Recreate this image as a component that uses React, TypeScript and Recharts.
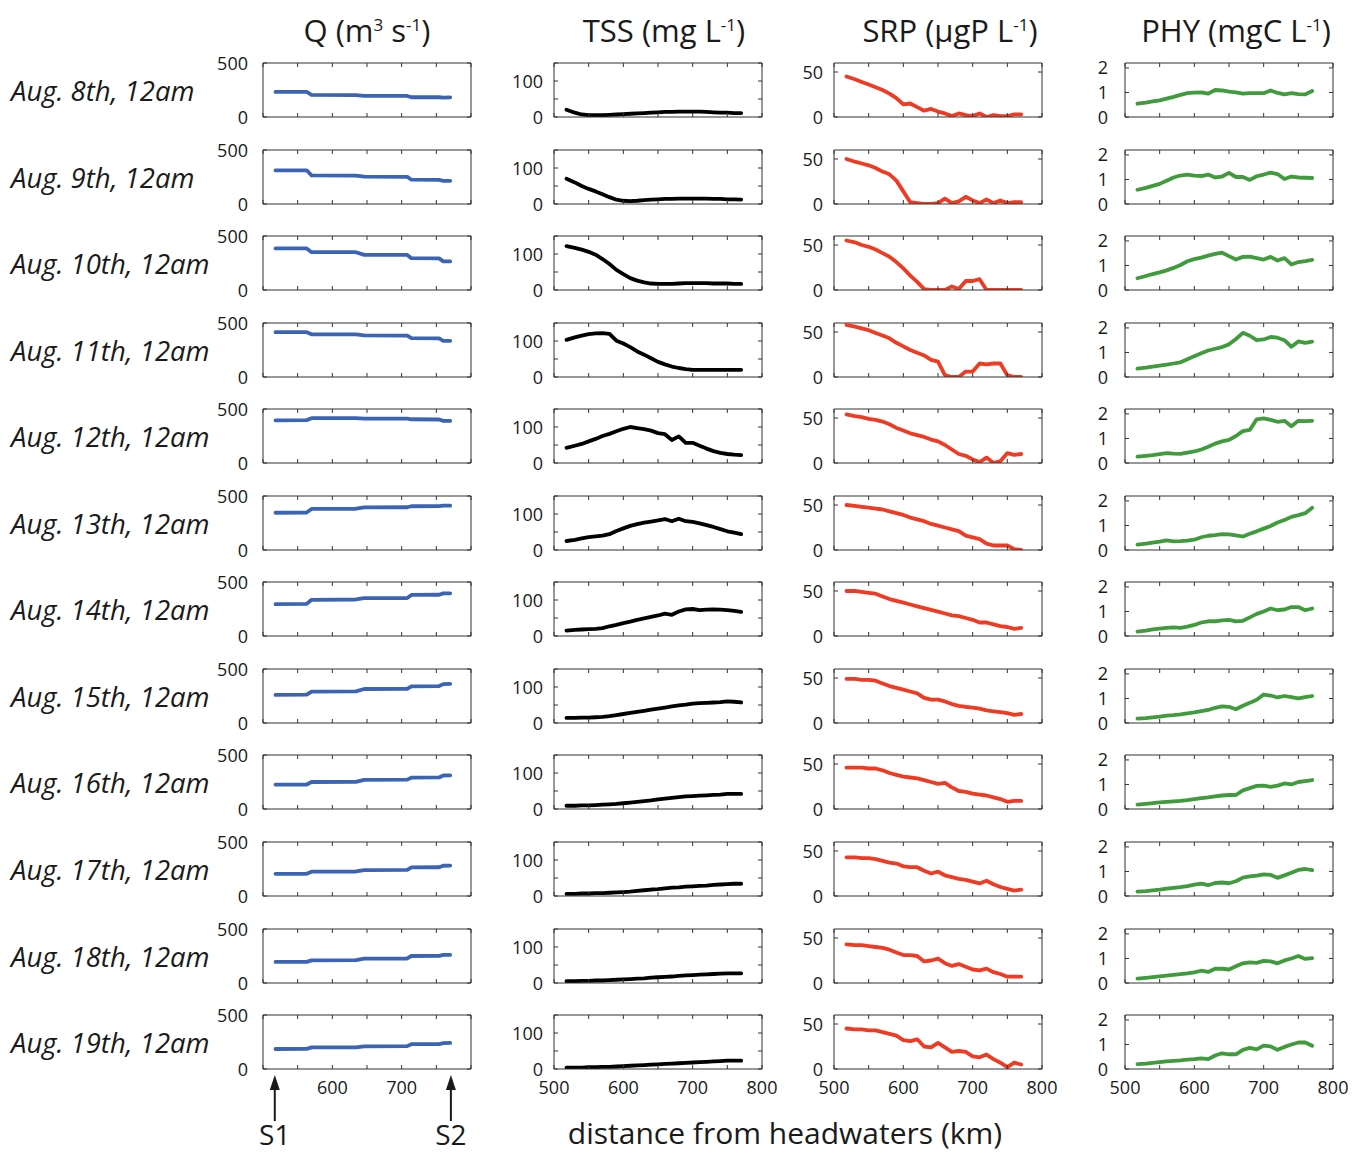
import React from "react";
import { LineChart, Line, XAxis, YAxis, ReferenceLine } from "recharts";

const FONT = "'Open Sans', 'Noto Sans', sans-serif";

const rowLabels = [
  "Aug. 8th, 12am", "Aug. 9th, 12am", "Aug. 10th, 12am", "Aug. 11th, 12am",
  "Aug. 12th, 12am", "Aug. 13th, 12am", "Aug. 14th, 12am", "Aug. 15th, 12am",
  "Aug. 16th, 12am", "Aug. 17th, 12am", "Aug. 18th, 12am", "Aug. 19th, 12am",
];

// distance from headwaters (km)
const distance = [518, 530, 540, 550, 560, 570, 580, 590, 600, 610, 620, 630, 640, 650, 660, 670, 680, 690, 700, 710, 720, 730, 740, 750, 760, 770];
const qDistance = [518, 563, 570, 634, 646, 708, 714, 754, 760, 770];
const stations = [{ name: "S1", km: 517 }, { name: "S2", km: 771 }];

const xTicks = [500, 550, 600, 650, 700, 750, 800];

// Q (m3/s)
const qRows = [
  [232, 232, 204, 203, 195, 195, 183, 183, 180, 182],
  [312, 312, 265, 263, 253, 252, 225, 224, 215, 215],
  [385, 385, 350, 350, 325, 325, 295, 293, 265, 265],
  [415, 415, 395, 395, 385, 384, 360, 358, 335, 335],
  [395, 397, 415, 415, 410, 410, 405, 403, 390, 390],
  [345, 347, 380, 382, 395, 396, 405, 406, 410, 410],
  [295, 297, 335, 338, 350, 352, 380, 382, 395, 395],
  [260, 262, 290, 293, 315, 317, 340, 342, 360, 362],
  [225, 227, 250, 252, 270, 272, 290, 292, 310, 312],
  [205, 206, 225, 227, 240, 242, 265, 266, 280, 281],
  [195, 196, 210, 212, 225, 227, 250, 251, 260, 261],
  [185, 186, 200, 201, 210, 212, 230, 231, 240, 241],
];

// TSS (mg/L)
const tssRows = [
  [20, 12, 7, 5, 5, 5, 6, 7, 8, 9, 10, 11, 12, 13, 14, 14, 15, 15, 15, 15, 14, 13, 12, 12, 11, 11],
  [70, 60, 50, 42, 35, 27, 19, 12, 9, 8, 9, 11, 12, 13, 14, 14, 15, 15, 15, 15, 15, 14, 14, 13, 13, 12],
  [122, 117, 112, 106, 98, 86, 72, 56, 44, 33, 26, 21, 18, 17, 17, 17, 18, 19, 19, 19, 19, 18, 18, 18, 17, 17],
  [103, 110, 115, 119, 121, 122, 120, 101, 93, 83, 71, 62, 52, 42, 35, 29, 25, 22, 20, 20, 20, 20, 20, 20, 20, 20],
  [42, 48, 53, 60, 67, 75, 81, 88, 95, 100, 97, 94, 90, 83, 80, 64, 74, 56, 56, 48, 40, 33, 28, 25, 23, 22],
  [25, 28, 32, 36, 38, 40, 44, 53, 60, 67, 72, 76, 79, 82, 86, 80, 87, 80, 78, 74, 69, 64, 58, 52, 48, 44],
  [15, 17, 18, 19, 20, 22, 27, 31, 36, 40, 45, 49, 53, 57, 62, 59, 68, 74, 75, 72, 73, 74, 73, 72, 70, 67],
  [14, 14, 15, 15, 16, 17, 19, 22, 25, 28, 31, 34, 37, 40, 43, 46, 49, 51, 54, 55, 56, 57, 58, 60, 59, 57],
  [9, 9, 10, 10, 11, 12, 13, 14, 16, 18, 20, 22, 24, 27, 29, 31, 33, 35, 36, 37, 38, 39, 40, 42, 42, 42],
  [6, 6, 7, 7, 8, 8, 9, 10, 11, 12, 14, 16, 18, 19, 21, 23, 24, 26, 27, 28, 29, 31, 32, 33, 34, 34],
  [5, 5, 6, 6, 7, 7, 8, 9, 10, 11, 12, 13, 15, 16, 17, 18, 20, 21, 22, 23, 24, 25, 26, 27, 27, 27],
  [4, 4, 4, 5, 5, 6, 6, 7, 8, 9, 10, 11, 12, 13, 14, 15, 16, 17, 18, 19, 20, 21, 22, 23, 23, 23],
];

// SRP (ugP/L)
const srpRows = [
  [45, 42, 39, 36, 33, 30, 26, 21, 14, 15, 11, 7, 9, 6, 4, 1, 4, 2, 1, 4, 0, 2, 1, 1, 3, 3],
  [50, 47, 45, 43, 40, 36, 33, 26, 14, 2, 1, 0, 0, 1, 6, 1, 3, 8, 4, 1, 5, 1, 4, 1, 2, 2],
  [55, 53, 50, 48, 45, 41, 37, 31, 24, 16, 9, 1, 0, 0, 0, 4, 1, 10, 10, 12, 0, 0, 0, 0, 0, 0],
  [58, 56, 54, 52, 49, 46, 43, 38, 34, 30, 27, 24, 19, 17, 2, 0, 0, 6, 6, 15, 14, 15, 15, 2, 0, 0],
  [54, 52, 51, 49, 48, 46, 43, 39, 36, 33, 31, 29, 26, 24, 20, 15, 10, 8, 4, 1, 6, 0, 2, 11, 9, 10],
  [50, 49, 48, 47, 46, 45, 43, 41, 39, 36, 34, 32, 29, 27, 25, 23, 21, 16, 14, 12, 7, 5, 5, 5, 1, 0],
  [50, 50, 49, 48, 47, 44, 41, 39, 37, 35, 33, 31, 29, 27, 25, 23, 22, 20, 18, 15, 15, 13, 11, 10, 8, 9],
  [49, 49, 48, 48, 47, 44, 41, 39, 37, 35, 33, 28, 26, 26, 24, 21, 19, 18, 17, 16, 14, 13, 12, 11, 9, 10],
  [46, 46, 46, 45, 45, 43, 40, 38, 36, 35, 34, 32, 30, 28, 29, 24, 20, 19, 17, 16, 15, 13, 11, 8, 9, 9],
  [43, 43, 42, 42, 41, 39, 37, 36, 33, 32, 32, 28, 25, 27, 23, 21, 19, 18, 16, 14, 17, 13, 10, 8, 6, 7],
  [43, 42, 42, 41, 40, 39, 37, 34, 31, 31, 30, 24, 25, 27, 22, 19, 21, 18, 15, 14, 16, 12, 10, 7, 7, 7],
  [45, 44, 44, 43, 43, 41, 39, 37, 32, 31, 33, 25, 24, 29, 24, 19, 20, 19, 14, 13, 16, 11, 7, 2, 7, 5],
];

// PHY (mgC/L)
const phyRows = [
  [0.54, 0.59, 0.64, 0.68, 0.75, 0.82, 0.9, 0.97, 0.99, 1.0, 0.95, 1.1, 1.08, 1.03, 1.0, 0.95, 0.97, 0.97, 0.97, 1.08, 0.98, 0.92, 0.97, 0.93, 0.92, 1.06],
  [0.58, 0.66, 0.74, 0.82, 0.95, 1.08, 1.16, 1.2, 1.16, 1.14, 1.2, 1.08, 1.12, 1.27, 1.1, 1.1, 0.98, 1.13, 1.2, 1.28, 1.22, 1.02, 1.12, 1.08, 1.07, 1.06],
  [0.48, 0.57, 0.65, 0.72, 0.8, 0.9, 1.02, 1.17, 1.26, 1.32, 1.4, 1.47, 1.52, 1.38, 1.24, 1.35, 1.36, 1.3, 1.24, 1.35, 1.2, 1.3, 1.04, 1.14, 1.18, 1.23],
  [0.34, 0.38, 0.42, 0.46, 0.5, 0.55, 0.6, 0.72, 0.85, 0.97, 1.08, 1.15, 1.22, 1.33, 1.55, 1.8, 1.68, 1.5, 1.53, 1.63, 1.6, 1.5, 1.23, 1.45, 1.39, 1.44],
  [0.26, 0.29, 0.32, 0.36, 0.4, 0.38, 0.37, 0.42, 0.47, 0.55, 0.66, 0.79, 0.88, 0.94, 1.1, 1.3, 1.35, 1.78, 1.82, 1.76, 1.68, 1.72, 1.5, 1.72, 1.71, 1.72],
  [0.22, 0.26, 0.3, 0.34, 0.39, 0.35, 0.36, 0.38, 0.42, 0.52, 0.58, 0.61, 0.65, 0.64, 0.6, 0.55, 0.66, 0.76, 0.87, 0.98, 1.12, 1.22, 1.35, 1.42, 1.5, 1.72],
  [0.18, 0.22, 0.27, 0.3, 0.33, 0.35, 0.33, 0.38, 0.45, 0.55, 0.6, 0.6, 0.64, 0.66, 0.6, 0.62, 0.76, 0.9, 1.0, 1.12, 1.05, 1.08, 1.18, 1.18, 1.05, 1.12],
  [0.18, 0.2, 0.23, 0.26, 0.3, 0.32, 0.35, 0.39, 0.43, 0.48, 0.53, 0.62, 0.68, 0.66, 0.56, 0.7, 0.82, 0.95, 1.16, 1.12, 1.04, 1.1, 1.05, 1.0, 1.05, 1.1],
  [0.18, 0.21, 0.24, 0.27, 0.29, 0.31, 0.33, 0.36, 0.4, 0.44, 0.47, 0.51, 0.55, 0.57, 0.57, 0.76, 0.85, 0.94, 0.95, 0.9, 0.95, 1.04, 1.0, 1.1, 1.14, 1.18],
  [0.18, 0.2, 0.23, 0.26, 0.3, 0.33, 0.36, 0.4, 0.46, 0.5, 0.44, 0.53, 0.55, 0.52, 0.6, 0.75, 0.8, 0.83, 0.88, 0.86, 0.74, 0.84, 0.95, 1.06, 1.1, 1.05],
  [0.18, 0.21, 0.24, 0.27, 0.3, 0.33, 0.36, 0.39, 0.43, 0.5, 0.45, 0.58, 0.58, 0.55, 0.68, 0.8, 0.84, 0.82, 0.9, 0.88, 0.8, 0.92, 1.0, 1.1, 0.98, 1.01],
  [0.2, 0.22, 0.25, 0.28, 0.31, 0.33, 0.35, 0.38, 0.4, 0.43, 0.4, 0.55, 0.64, 0.6, 0.6, 0.78, 0.86, 0.8, 0.95, 0.92, 0.78, 0.9, 1.0, 1.08, 1.08, 0.95],
];

const sup = { fontSize: "0.55em" };
const columns = [
  {
    key: "q", title: <>Q (m<sup style={sup}>3</sup> s<sup style={sup}>-1</sup>)</>,
    titleX: 367, left: 263, color: "#3b64b4", rows: qRows, dist: qDistance,
    domain: [0, 500], yTicks: [0, 500], yLabels: [0, 500], xLabels: [600, 700], yGap: 15,
  },
  {
    key: "tss", title: <>TSS (mg L<sup style={sup}>-1</sup>)</>,
    titleX: 664, left: 554, color: "#000000", rows: tssRows, dist: distance,
    domain: [0, 150], yTicks: [0, 50, 100, 150], yLabels: [0, 100], xLabels: [500, 600, 700, 800], yGap: 11,
  },
  {
    key: "srp", title: <>SRP (µgP L<sup style={sup}>-1</sup>)</>,
    titleX: 950, left: 834, color: "#ee3b24", rows: srpRows, dist: distance,
    domain: [0, 60], yTicks: [0, 50], yLabels: [0, 50], xLabels: [500, 600, 700, 800], yGap: 11,
  },
  {
    key: "phy", title: <>PHY (mgC L<sup style={sup}>-1</sup>)</>,
    titleX: 1236, left: 1125, color: "#409b3c", rows: phyRows, dist: distance,
    domain: [0, 2.2], yTicks: [0, 1, 2], yLabels: [0, 1, 2], xLabels: [500, 600, 700, 800], yGap: 17,
  },
];

const BOX_W = 208;
const BOX_H = 54;
const TOP0 = 63;
const ROW_STEP = 86.55;
const Y_AXIS_W = 55;
const M = { top: 12, right: 22, bottom: 8, left: 0 };
const X_AXIS_H = 24;
const CHART_W = Y_AXIS_W + BOX_W + M.right;
const CHART_H = M.top + BOX_H + X_AXIS_H + M.bottom;
const AXIS = "#333333";
const TICK_LEN = 4;
const TEXT = "#1a1a1a";

// bottom tick: inward mark at bottom and top edge of the box, label below
function XTick({ x, y, payload, show, labels }) {
  const v = payload.value;
  return (
    <g>
      <line x1={x} x2={x} y1={y} y2={y - TICK_LEN} stroke={AXIS} />
      <line x1={x} x2={x} y1={y - BOX_H} y2={y - BOX_H + TICK_LEN} stroke={AXIS} />
      {show && labels.includes(v) ? (
        <text x={x} y={y + 25} textAnchor="middle" fontSize={18} fontFamily={FONT} fill={TEXT}>{v}</text>
      ) : null}
    </g>
  );
}

// left tick: inward mark at left and right edge of the box, label to the left
function YTick({ x, y, payload, labels, gap }) {
  const v = payload.value;
  return (
    <g>
      <line x1={x} x2={x + TICK_LEN} y1={y} y2={y} stroke={AXIS} />
      <line x1={x + BOX_W} x2={x + BOX_W - TICK_LEN} y1={y} y2={y} stroke={AXIS} />
      {labels.includes(v) ? (
        <text x={x - gap} y={y + 6.5} textAnchor="end" fontSize={18} fontFamily={FONT} fill={TEXT}>{v}</text>
      ) : null}
    </g>
  );
}

function Panel({ col, row, last }) {
  const values = col.rows[row];
  const data = col.dist.map((d, i) => ({ d, v: values[i] }));
  return (
    <LineChart width={CHART_W} height={CHART_H} data={data} margin={M}>
      <XAxis
        xAxisId="b" dataKey="d" type="number" domain={[500, 800]} ticks={xTicks}
        height={X_AXIS_H} allowDataOverflow interval={0}
        axisLine={{ stroke: AXIS }} tickLine={false} tickSize={0} tickMargin={0}
        tick={(p) => <XTick {...p} show={last} labels={col.xLabels} />}
      />
      <YAxis
        yAxisId="l" type="number" domain={col.domain} ticks={col.yTicks} width={Y_AXIS_W}
        allowDataOverflow interval={0}
        axisLine={{ stroke: AXIS }} tickLine={false} tickSize={0} tickMargin={0}
        tick={(p) => <YTick {...p} labels={col.yLabels} gap={col.yGap} />}
      />
      <ReferenceLine xAxisId="b" yAxisId="l" y={col.domain[1]} stroke={AXIS} />
      <ReferenceLine xAxisId="b" yAxisId="l" x={800} stroke={AXIS} />
      <Line
        xAxisId="b" yAxisId="l" type="linear" dataKey="v" stroke={col.color}
        strokeWidth={3.8} strokeLinejoin="round" strokeLinecap="round"
        dot={false} isAnimationActive={false}
      />
    </LineChart>
  );
}

export default function App() {
  const qCol = columns[0];
  const lastTop = TOP0 + ROW_STEP * (rowLabels.length - 1);
  const kmToX = (km) => qCol.left + ((km - 500) / 300) * BOX_W;
  return (
    <div style={{ position: "absolute", left: 0, top: 0, width: 1353, height: 1155, background: "#fff", fontFamily: FONT, color: TEXT, overflow: "hidden" }}>
      {columns.map((col) => (
        <div key={col.key} style={{ position: "absolute", left: col.titleX - 160, width: 320, top: 3, textAlign: "center", fontSize: 31, lineHeight: "44px", whiteSpace: "nowrap" }}>
          {col.title}
        </div>
      ))}
      {rowLabels.map((label, r) => (
        <div key={label} style={{ position: "absolute", left: 11, top: TOP0 + ROW_STEP * r + BOX_H / 2 - 19, height: 40, lineHeight: "40px", fontSize: 27.5, fontStyle: "italic", whiteSpace: "nowrap" }}>
          {label}
        </div>
      ))}
      {rowLabels.map((label, r) =>
        columns.map((col) => (
          <div key={label + col.key} style={{ position: "absolute", left: col.left - Y_AXIS_W, top: TOP0 + ROW_STEP * r - M.top }}>
            <Panel col={col} row={r} last={r === rowLabels.length - 1} />
          </div>
        ))
      )}
      <svg width={1353} height={1155} style={{ position: "absolute", left: 0, top: 0, pointerEvents: "none" }}>
        {stations.map((s) => {
          const x = kmToX(s.km);
          const tip = lastTop + BOX_H + 6;
          return (
            <g key={s.name}>
              <line x1={x} y1={tip + 10} x2={x} y2={tip + 46} stroke={TEXT} strokeWidth={2} />
              <polygon points={`${x},${tip} ${x - 5},${tip + 15} ${x + 5},${tip + 15}`} fill={TEXT} />
              <text x={x} y={1145} textAnchor="middle" fontSize={28} fontFamily={FONT} fill={TEXT}>{s.name}</text>
            </g>
          );
        })}
        <text x={785} y={1144} textAnchor="middle" fontSize={30} fontFamily={FONT} fill={TEXT}>
          distance from headwaters (km)
        </text>
      </svg>
    </div>
  );
}
